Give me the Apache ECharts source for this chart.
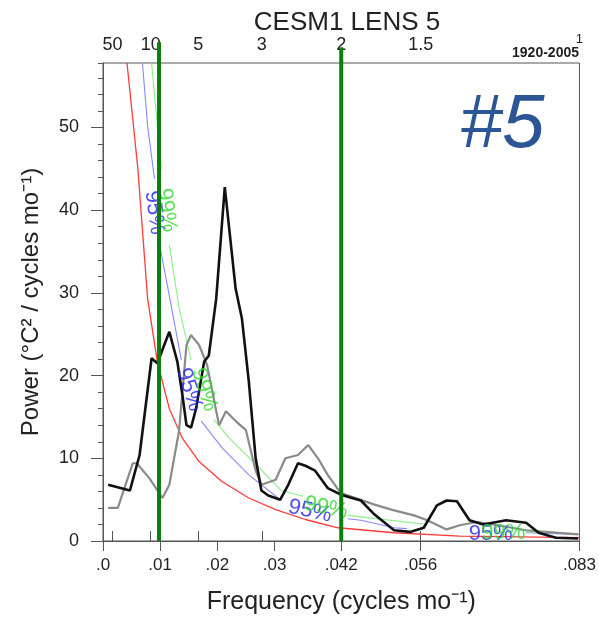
<!DOCTYPE html>
<html>
<head>
<meta charset="utf-8">
<script src="https://cdn.jsdelivr.net/npm/echarts@6/dist/echarts.min.js"></script>
<style>
  html, body { margin: 0; padding: 0; background: #fff; }
  #chart { width: 599px; height: 620px; }
</style>
</head>
<body>
<div id="chart"></div>
<script>
// [frequency (cycles/mo), power]
const blackSpec = [
  [0.0009, 6.8], [0.0047, 6.1], [0.0064, 10.4], [0.0085, 22.1], [0.0095, 21.5],
  [0.0116, 25.3], [0.0130, 21.7], [0.0139, 17.6], [0.0146, 14.0], [0.0154, 13.7],
  [0.0163, 16.1], [0.0177, 21.7], [0.0185, 22.4], [0.0198, 29.3], [0.0213, 42.8],
  [0.0232, 30.5], [0.0243, 26.9], [0.0255, 19.3], [0.0267, 10.0], [0.0277, 6.1],
  [0.0289, 5.5], [0.0310, 5.0], [0.0324, 6.8], [0.0341, 9.4], [0.0354, 9.1],
  [0.0371, 8.5], [0.0393, 6.4], [0.0416, 5.6], [0.0451, 4.9], [0.0475, 3.2],
  [0.0509, 1.3], [0.0537, 1.1], [0.0561, 1.6], [0.0584, 4.3], [0.0601, 4.9],
  [0.0619, 4.8], [0.0641, 2.5], [0.0665, 2.0], [0.0705, 2.5], [0.0740, 2.2],
  [0.0762, 1.0], [0.0792, 0.4], [0.0831, 0.3]
];
const greySpec = [
  [0.0009, 4.0], [0.0026, 4.0], [0.0052, 9.4], [0.0059, 9.4], [0.0081, 7.6],
  [0.0104, 5.2], [0.0116, 6.8], [0.0133, 13.3], [0.0146, 23.7], [0.0154, 24.9],
  [0.0168, 23.7], [0.0182, 21.3], [0.0203, 14.0], [0.0215, 15.7], [0.0232, 14.5],
  [0.0250, 13.4], [0.0267, 8.5], [0.0277, 6.8], [0.0302, 7.4], [0.0319, 10.0],
  [0.0341, 10.4], [0.0359, 11.6], [0.0376, 10.0], [0.0393, 8.0], [0.0416, 5.8],
  [0.0475, 4.4], [0.0509, 3.7], [0.0544, 3.1], [0.0567, 2.5], [0.0601, 1.4],
  [0.0624, 1.9], [0.0653, 2.3], [0.0683, 2.0], [0.0740, 1.3], [0.0831, 0.8]
];
const redNoise = [
  [0.0042, 57.8], [0.0061, 45.0], [0.0078, 29.3], [0.0095, 21.7], [0.0116, 16.0],
  [0.0139, 12.4], [0.0168, 9.6], [0.0208, 7.2], [0.0255, 5.2], [0.0302, 3.8],
  [0.0354, 2.6], [0.0411, 1.6], [0.0509, 1.0], [0.0624, 0.6], [0.0833, 0.4]
];
const conf95 = [
  [0.0069, 57.8], [0.0078, 50.2], [0.0090, 43.8], [0.0095, null],
  [0.0099, 35.8], [0.0120, 28.2], [0.0137, 21.9], [0.0150, null],
  [0.0172, 14.5], [0.0208, 11.3], [0.0255, 8.0], [0.0312, 4.9], [0.0360, null],
  [0.0428, 2.7], [0.0451, 2.5], [0.0509, 1.6], [0.0532, 1.5], [0.0650, null],
  [0.0740, 1.0], [0.0833, 0.8]
];
const conf99 = [
  [0.0085, 57.8], [0.0102, 45.0], [0.0108, null],
  [0.0116, 35.8], [0.0133, 28.2], [0.0154, 21.9], [0.0170, null],
  [0.0194, 14.7], [0.0220, 12.5], [0.0267, 9.3], [0.0312, 6.1], [0.0350, 5.4], [0.0390, null],
  [0.0428, 3.1], [0.0567, 2.0], [0.0650, null],
  [0.0740, 1.1], [0.0833, 0.9]
];
// where the 95% / 99% tags sit, and how they lean
const tag95 = [[0.0090, 39.7], [0.0151, 18.3], [0.0362, 3.6], [0.0678, 0.9]];
const tag99 = [[0.0111, 40.0], [0.0177, 18.3], [0.0390, 4.0], [0.0700, 1.0]];
const tagAngles = [-82, -72, -12, 0];
// vertical reference lines [frequency, top]
const refLines = [[0.0098, 60.3], [1 / 24, 59.7]];

const freqTicks = [0, 0.01, 0.02, 0.03, 1 / 24, 1 / 18, 1 / 12];
const freqLabels = ['.0', '.01', '.02', '.03', '.042', '.056', '.083'];
const periodTicks = [1 / 600, 1 / 120, 1 / 60, 1 / 36, 1 / 24, 1 / 18, 1 / 12];
const periodLabels = ['50', '10', '5', '3', '2', '1.5', '1'];

const font = 'Liberation Sans, Arial, Helvetica, sans-serif';
const axisCol = '#555';
const txtCol = '#222';
const yMax = 57.8;
const xMax = 1 / 12;

const pick = (ticks, labels) => (v) => {
  const i = ticks.findIndex((t) => Math.abs(t - v) < 1e-7);
  return i < 0 ? '' : labels[i];
};

const tagSeries = (tags, text, color) => ({
  type: 'scatter',
  symbolSize: 0,
  silent: true,
  z: 6,
  data: tags.map((t, i) => ({
    value: t,
    label: { rotate: tagAngles[i] }
  })),
  label: {
    show: true,
    position: 'inside',
    formatter: text,
    color,
    fontSize: 22,
    fontFamily: font
  }
});

const chart = echarts.init(document.getElementById('chart'));
chart.setOption({
  animation: false,
  backgroundColor: '#fff',
  title: {
    text: 'CESM1 LENS 5',
    left: 342,
    textAlign: 'center',
    top: 5,
    textStyle: { fontSize: 26, fontWeight: 'normal', color: txtCol, fontFamily: font }
  },
  graphic: [
    {
      type: 'text',
      right: 20,
      top: 46,
      style: { text: '1920-2005', fontSize: 14, fontWeight: 'bold', fill: txtCol, fontFamily: font }
    },
    {
      type: 'text',
      left: 460,
      top: 88,
      style: { text: '#5', fontSize: 76, fontStyle: 'italic', fill: '#2c5596', fontFamily: font }
    }
  ],
  grid: {
    left: 103, right: 17, top: 63, bottom: 77,
    show: true, borderColor: axisCol, borderWidth: 1
  },
  xAxis: [
    {
      type: 'value', min: 0, max: xMax, position: 'bottom',
      name: 'Frequency (cycles mo⁻¹)',
      nameLocation: 'middle', nameGap: 49,
      nameTextStyle: { fontSize: 25, color: txtCol, fontFamily: font },
      axisLine: { lineStyle: { color: axisCol } },
      axisTick: { customValues: freqTicks, length: 10, lineStyle: { color: axisCol } },
      axisLabel: {
        customValues: freqTicks, formatter: pick(freqTicks, freqLabels),
        margin: 16, fontSize: 17, color: txtCol, fontFamily: font
      },
      splitLine: { show: false }
    },
    {
      type: 'value', min: 0, max: xMax, position: 'top',
      axisLine: { lineStyle: { color: axisCol } },
      axisTick: { customValues: periodTicks, length: 10, lineStyle: { color: axisCol } },
      axisLabel: {
        customValues: periodTicks,
        formatter: (v) => {
          const s = pick(periodTicks, periodLabels)(v);
          return s === '1' ? '{s|1}' : s;
        },
        margin: 9, fontSize: 18, color: txtCol, fontFamily: font,
        rich: { s: { fontSize: 13, padding: [0, 0, 8, 0], color: txtCol, fontFamily: font } }
      },
      splitLine: { show: false }
    }
  ],
  yAxis: [
    {
      type: 'value', min: 0, max: yMax, interval: 10,
      name: 'Power (°C² / cycles mo⁻¹)',
      nameLocation: 'middle', nameGap: 60,
      nameTextStyle: { fontSize: 24, color: txtCol, fontFamily: font },
      axisLine: { show: true, lineStyle: { color: axisCol } },
      axisTick: { length: 12, lineStyle: { color: axisCol } },
      axisLabel: { margin: 24, fontSize: 18, color: txtCol, fontFamily: font, showMaxLabel: false },
      splitLine: { show: false }
    },
    {
      type: 'value', min: 0, max: yMax, interval: 2, position: 'left',
      axisLine: { show: false },
      axisTick: { length: 5, lineStyle: { color: axisCol } },
      axisLabel: { show: false },
      splitLine: { show: false }
    }
  ],
  series: [
    { type: 'line', data: redNoise, showSymbol: false, silent: true, z: 2,
      lineStyle: { color: '#ff3b3b', width: 1.3 } },
    { type: 'line', data: conf95, showSymbol: false, silent: true, z: 2,
      lineStyle: { color: '#8888ff', width: 1.1 } },
    { type: 'line', data: conf99, showSymbol: false, silent: true, z: 2,
      lineStyle: { color: '#88ee88', width: 1.1 } },
    { type: 'line', data: greySpec, showSymbol: false, silent: true, z: 3,
      lineStyle: { color: '#8a8a8a', width: 2.2 } },
    { type: 'line', data: blackSpec, showSymbol: false, silent: true, z: 4,
      lineStyle: { color: '#111', width: 2.6 } },
    tagSeries(tag95, '95%', '#2424ee'),
    tagSeries(tag99, '99%', '#2ed82e'),
    {
      type: 'custom', clip: false, silent: true, z: 8,
      data: refLines,
      renderItem: (params, api) => {
        const a = api.coord([api.value(0), 0]);
        const b = api.coord([api.value(0), api.value(1)]);
        return {
          type: 'line',
          shape: { x1: a[0], y1: a[1], x2: b[0], y2: b[1] },
          style: { stroke: '#0b7f0b', lineWidth: 4 }
        };
      }
    }
  ]
});
</script>
</body>
</html>
